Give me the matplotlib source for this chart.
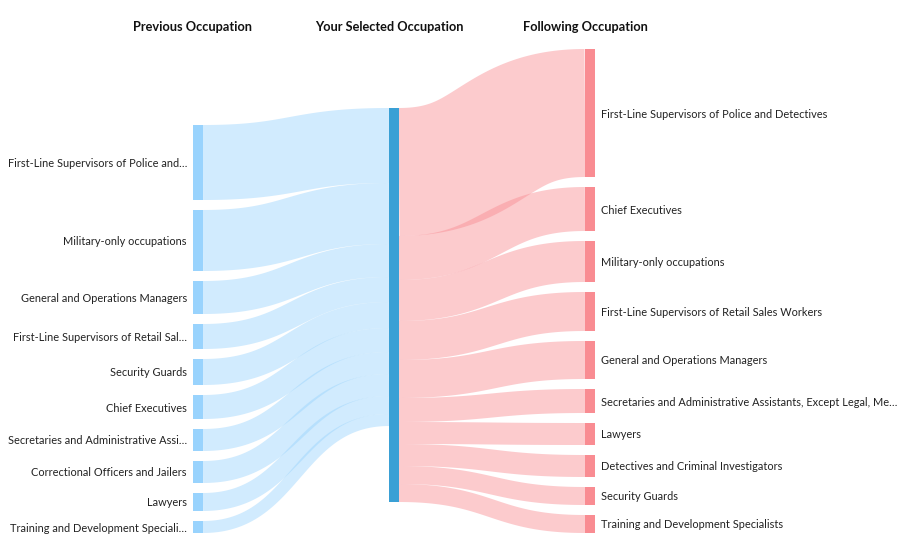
import matplotlib.pyplot as plt
import numpy as np

# Sankey data: previous -> selected -> following occupation
left_labels = ["First-Line Supervisors of Police and…", "Military-only occupations",
               "General and Operations Managers", "First-Line Supervisors of Retail Sal…",
               "Security Guards", "Chief Executives", "Secretaries and Administrative Assi…",
               "Correctional Officers and Jailers", "Lawyers", "Training and Development Speciali…"]
left_values = [75, 61, 33, 25, 26, 24, 22, 22, 18, 12]

right_labels = ["First-Line Supervisors of Police and Detectives", "Chief Executives",
                "Military-only occupations", "First-Line Supervisors of Retail Sales Workers",
                "General and Operations Managers",
                "Secretaries and Administrative Assistants, Except Legal, Me…",
                "Lawyers", "Detectives and Criminal Investigators", "Security Guards",
                "Training and Development Specialists"]
right_values = [128, 44, 41, 39, 38, 24, 22, 22, 18, 18]

headers = ["Previous Occupation", "Your Selected Occupation", "Following Occupation"]

# layout (pixel space)
W, H = 904, 555
NODE_W = 10
GAP = 10
X_LEFT, X_MID, X_RIGHT = 193, 389, 585
LEFT_BOTTOM = 533
MID_TOP = 108
RIGHT_TOP = 49

LEFT_NODE = '#99d3fd'
MID_NODE = '#3aa0d5'
RIGHT_NODE = '#f98c92'
LINK_ALPHA = 0.45

plt.rcParams['font.family'] = ['Lato', 'DejaVu Sans']

fig = plt.figure(figsize=(W / 100, H / 100), dpi=100)
ax = fig.add_axes([0, 0, 1, 1])
ax.set_xlim(0, W)
ax.set_ylim(H, 0)
ax.axis('off')


def stack(values, top):
    tops = []
    y = top
    for v in values:
        tops.append(y)
        y += v + GAP
    return np.array(tops)


def link(x0, y0, x1, y1, width, color):
    # horizontal cubic bezier, drawn as a thick stroke like d3-sankey
    t = np.linspace(0, 1, 80)
    xm = (x0 + x1) / 2
    xs = (1 - t) ** 3 * x0 + 3 * (1 - t) ** 2 * t * xm + 3 * (1 - t) * t ** 2 * xm + t ** 3 * x1
    ys = (1 - t) ** 3 * y0 + 3 * (1 - t) ** 2 * t * y0 + 3 * (1 - t) * t ** 2 * y1 + t ** 3 * y1
    ax.plot(xs, ys, color=color, alpha=LINK_ALPHA, lw=width * 0.72,
            solid_capstyle='butt', zorder=1)


left_total = sum(left_values) + GAP * (len(left_values) - 1)
left_tops = stack(left_values, LEFT_BOTTOM - left_total)
right_tops = stack(right_values, RIGHT_TOP)
mid_height = max(sum(left_values), sum(right_values))

# links into the selected occupation
y_in = MID_TOP
for top, v in zip(left_tops, left_values):
    link(X_LEFT + NODE_W, top + v / 2, X_MID, y_in + v / 2, v, LEFT_NODE)
    y_in += v

# links out of the selected occupation
y_out = MID_TOP
for top, v in zip(right_tops, right_values):
    link(X_MID + NODE_W, y_out + v / 2, X_RIGHT, top + v / 2, v, RIGHT_NODE)
    y_out += v

# nodes
ax.bar([X_LEFT] * len(left_values), left_values, bottom=left_tops, width=NODE_W,
       align='edge', color=LEFT_NODE, zorder=2)
ax.bar([X_MID], [mid_height], bottom=[MID_TOP], width=NODE_W,
       align='edge', color=MID_NODE, zorder=2)
ax.bar([X_RIGHT] * len(right_values), right_values, bottom=right_tops, width=NODE_W,
       align='edge', color=RIGHT_NODE, zorder=2)

# labels
for lab, top, v in zip(left_labels, left_tops, left_values):
    ax.text(X_LEFT - 6, top + v / 2 + 1, lab, ha='right', va='center', fontsize=7.9, color='#222222')
for lab, top, v in zip(right_labels, right_tops, right_values):
    ax.text(X_RIGHT + NODE_W + 6, top + v / 2 + 1, lab, ha='left', va='center', fontsize=7.9, color='#222222')

for hx, h in zip([X_LEFT, X_MID, X_RIGHT], headers):
    ax.text(hx, 27, h, ha='center', va='center', fontsize=9.2, fontweight='bold', color='#111111')

fig.savefig('out.png', dpi=100)
